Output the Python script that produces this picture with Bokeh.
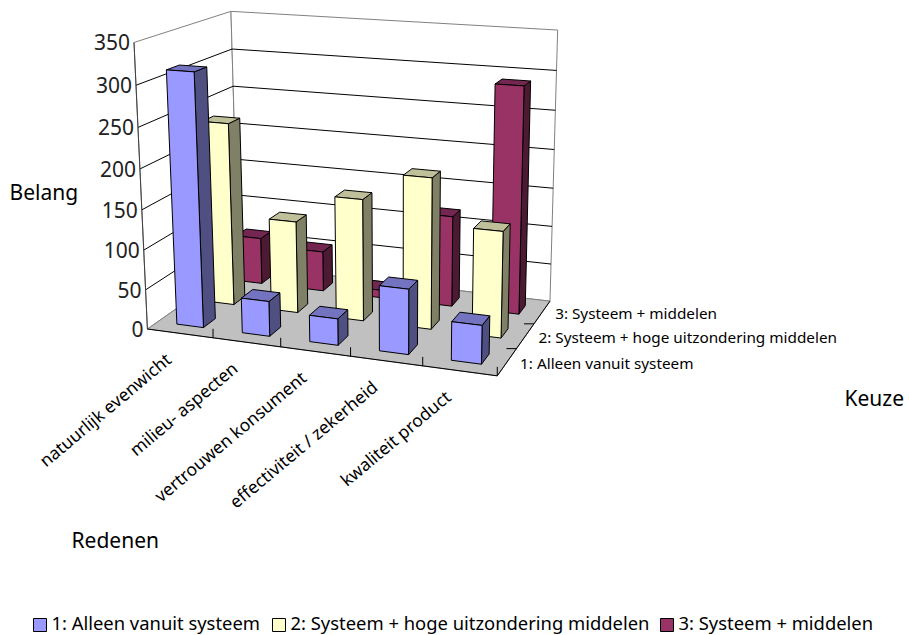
from bokeh.plotting import figure
from bokeh.models import Range1d
from bokeh.core.properties import value
from bokeh.embed import file_html
from bokeh.resources import INLINE
import numpy as np

categories = ["natuurlijk evenwicht", "milieu- aspecten", "vertrouwen konsument", "effectiviteit / zekerheid", "kwaliteit product"]
series_names = ["1: Alleen vanuit systeem", "2: Systeem + hoge uitzondering middelen", "3: Systeem + middelen"]
series_1 = [315, 44, 33, 80, 47]
series_2 = [235, 118, 155, 190, 133]
series_3 = [62, 53, 10, 118, 290]
z_ticks = [0, 50, 100, 150, 200, 250, 300, 350]

FONT = "Noto Sans"
FRONT = ["#9999FF", "#FFFFCC", "#993366"]
SIDE = ["#4F4F82", "#808066", "#4D1A33"]
TOP = ["#7373BF", "#BFBF99", "#732650"]

cal3d = np.array([[0,0,0],[5,0,0],[5,3,0],[0,3,0],[0,0,350],[5,3,350],[0,3,350],[5,3,300],[0,0,150],
                  [1,0,0],[2,0,0],[3,0,0],[4,0,0],[5,1,0],[5,2,0],[5,3,150],[0,3,150]], float)
cal2d = np.array([[146,327.5],[498,376.5],[549,299],[240,267],[136,41.7],[557.5,31],[227,10],[556.5,70],[141.5,210],
                  [211.7,336.5],[279.3,346],[349.3,356],[421.7,366],[516.5,348],[533,323],[552.5,187],[236,158]], float)
A = []
b = []
for (X, Y, Z), (u, v) in zip(cal3d, cal2d):
    A.append([X, Y, Z, 1, 0, 0, 0, 0, -u*X, -u*Y, -u*Z]); b.append(u)
    A.append([0, 0, 0, 0, X, Y, Z, 1, -v*X, -v*Y, -v*Z]); b.append(v)
h = np.linalg.lstsq(np.array(A), np.array(b), rcond=None)[0]
M = np.append(h, 1).reshape(3, 4)

def proj(X, Y, Z):
    r = M @ np.array([X, Y, Z, 1.0])
    return r[0]/r[2], r[1]/r[2]

def quad(pts):
    q = [proj(*pt) for pt in pts]
    return [a for a, _ in q], [c for _, c in q]

p = figure(width=909, height=635, x_range=Range1d(0, 909), y_range=Range1d(635, 0),
           output_backend="svg", toolbar_location=None, min_border=0,
           outline_line_color=None)
p.axis.visible = False
p.grid.visible = False

def face(pts, fill, line="#000000", w=1.0):
    xs, ys = quad(pts)
    p.patch(xs, ys, fill_color=fill, line_color=line, line_width=w)

def seg(a, b_, color="#000000", w=1.0):
    xs, ys = quad([a, b_])
    p.line(xs, ys, line_color=color, line_width=w)

nx, ny = len(categories), len(series_names)
zmax = z_ticks[-1]
face([(0,0,0),(0,ny,0),(0,ny,zmax),(0,0,zmax)], "#FFFFFF", "#808080")
face([(0,ny,0),(nx,ny,0),(nx,ny,zmax),(0,ny,zmax)], "#FFFFFF", "#808080")
face([(0,0,0),(nx,0,0),(nx,ny,0),(0,ny,0)], "#C0C0C0", "#808080")
for z in z_ticks[1:-1]:
    seg((0,0,z),(0,ny,z))
    seg((0,ny,z),(nx,ny,z))
seg((0,0,0),(0,0,zmax), "#404040")
seg((0,0,0),(nx,0,0))
seg((nx,0,0),(nx,ny,0))
for i in range(1, nx+1):
    x0, y0 = proj(i,0,0)
    p.segment([x0],[y0],[x0],[y0-9], line_color="#000000", line_width=1)
for j in range(1, ny):
    x0, y0 = proj(nx,j,0)
    p.segment([x0],[y0],[x0-10],[y0], line_color="#000000", line_width=1)

WX, WY = 0.41, 0.38
series = [series_1, series_2, series_3]
for j in range(ny-1, -1, -1):
    for i in range(nx):
        v = series[j][i]
        x0, x1 = i+0.5-WX/2, i+0.5+WX/2
        y0, y1 = j+0.5-WY/2, j+0.5+WY/2
        face([(x1,y0,0),(x1,y1,0),(x1,y1,v),(x1,y0,v)], SIDE[j])
        face([(x0,y0,v),(x1,y0,v),(x1,y1,v),(x0,y1,v)], TOP[j])
        face([(x0,y0,0),(x1,y0,0),(x1,y0,v),(x0,y0,v)], FRONT[j])

for z in z_ticks:
    x0, y0 = proj(0,0,z)
    p.text([x0-4],[y0],[str(z)], text_font=value(FONT), text_font_size="21px",
           text_color="#222222", text_align="right", text_baseline="middle")
for i, c in enumerate(categories):
    x0, y0 = proj(i+0.5,0,0)
    p.text([x0-12],[y0+23],[c], angle=40, angle_units="deg", text_font=value(FONT), text_font_size="17.4px",
           text_color="#000000", text_align="right", text_baseline="middle")
for j, c in enumerate(series_names):
    x0, y0 = proj(nx,j+0.5,0)
    p.text([x0+13],[y0+1],[c], text_font=value(FONT), text_font_size="15.3px",
           text_color="#000000", text_align="left", text_baseline="middle")
for t, tx, ty in [("Belang", 9, 191), ("Keuze", 844, 397), ("Redenen", 71, 539)]:
    p.text([tx],[ty],[t], text_font=value(FONT), text_font_size="21px", text_color="#000000",
           text_align="left", text_baseline="middle")
for name, col, sx in zip(series_names, FRONT, [33, 272, 660]):
    p.quad(left=[sx], right=[sx+13], top=[618], bottom=[631], fill_color=col, line_color="#000000", line_width=1)
    p.text([sx+18],[622],[name], text_font=value(FONT), text_font_size="18.4px", text_color="#000000",
           text_align="left", text_baseline="middle")

open("out.html", "w").write(file_html(p, INLINE))
